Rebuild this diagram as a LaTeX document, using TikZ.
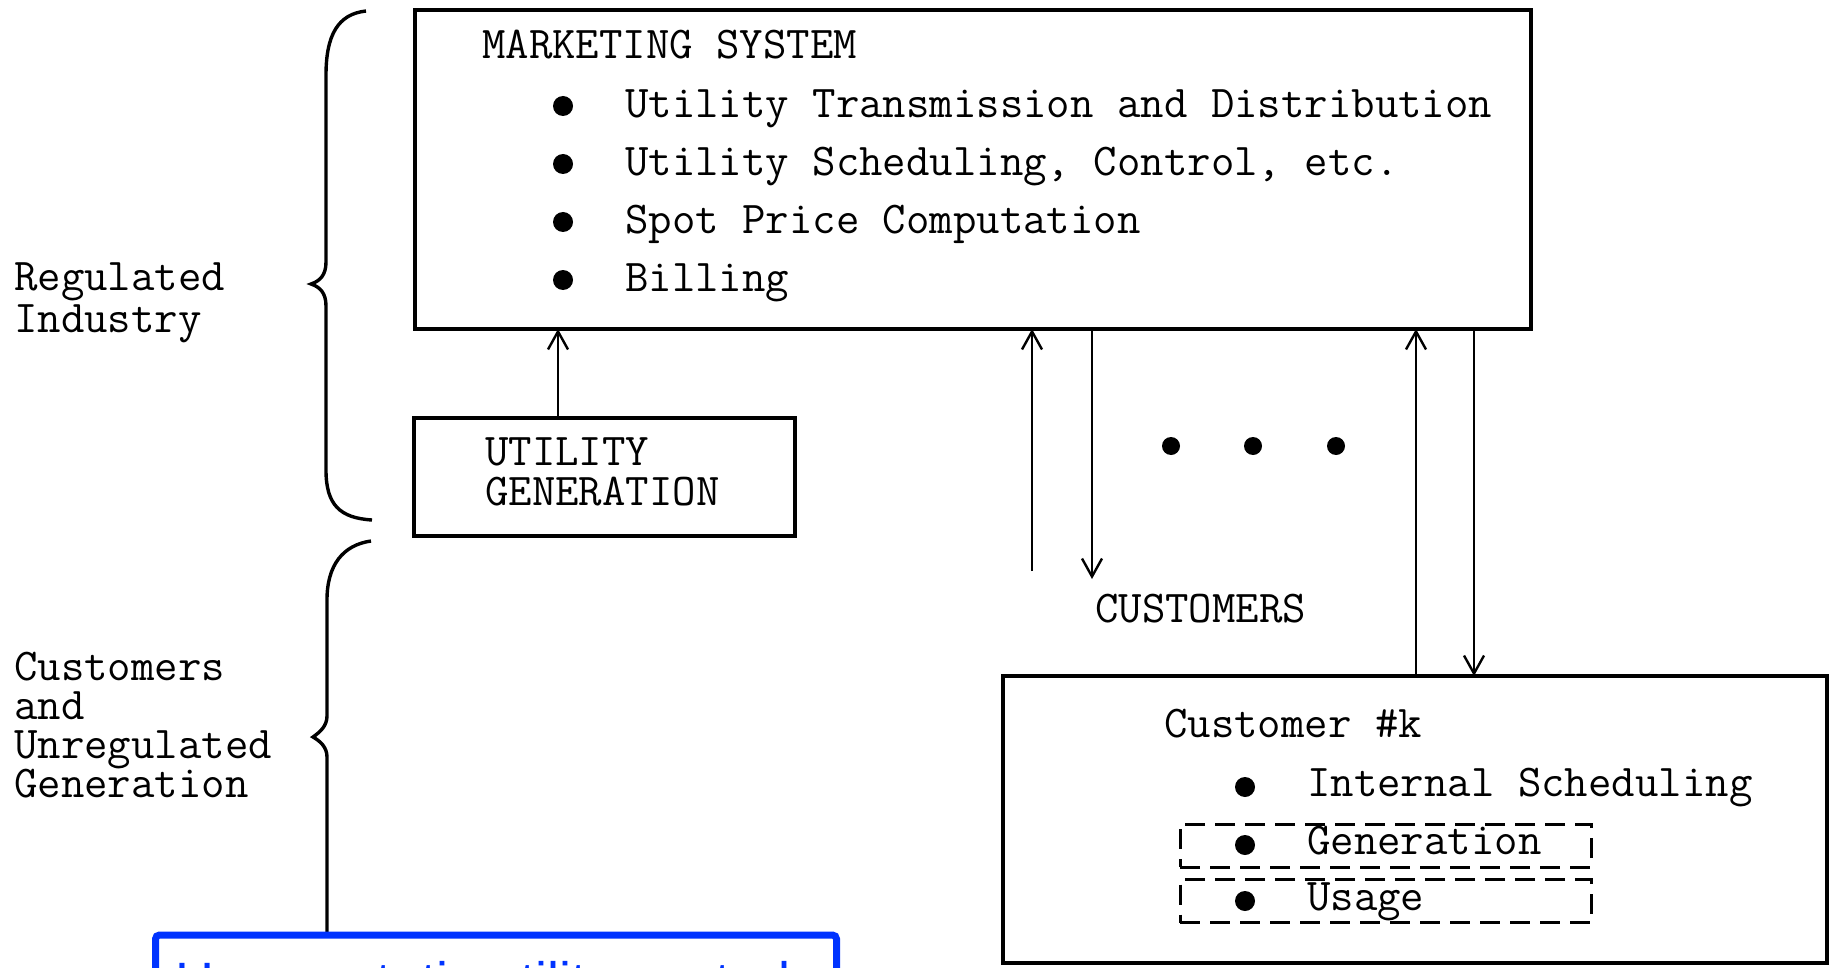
\documentclass[tikz,border=0pt]{standalone}
\usepackage{fontspec}
\usetikzlibrary{arrows.meta}
\newfontfamily\notefont{Liberation Sans}
\definecolor{noteblue}{RGB}{0,51,255}
\newcommand{\typed}{\fontsize{22.75pt}{26pt}\selectfont\ttfamily\addfontfeature{FakeBold=1}}

\begin{document}
\begin{tikzpicture}[x=0.5pt,y=-0.5pt,line width=1.2pt,
  box/.style={draw,line width=1.7pt,inner sep=0pt,outer sep=0pt},
  dbox/.style={draw,line width=1.5pt,dash pattern=on 10pt off 5pt,inner sep=0pt,outer sep=0pt},
  txt/.style={anchor=base west,inner sep=0pt,font=\typed,text height=1.5ex,text depth=0.3ex},
  dot/.style={circle,fill,inner sep=0pt,minimum size=10pt},
  >={Straight Barb[length=9pt,width=10pt]}]
\useasboundingbox (0,0) rectangle (1835,968);
\node[box,minimum width=558pt,minimum height=159.5pt] (mkt) at (973,169.5) {};
\node[txt] (mkttitle) at (481,59) {MARKETING SYSTEM};
\node[dot] (m1) at (563,106) {};
\node[txt] (mkt1) at (624,118) {Utility Transmission and Distribution};
\node[dot] (m2) at (563,164) {};
\node[txt] (mkt2) at (624,176) {Utility Scheduling, Control, etc.};
\node[dot] (m3) at (563,222) {};
\node[txt] (mkt3) at (624,234) {Spot Price Computation};
\node[dot] (m4) at (563,280) {};
\node[txt] (mkt4) at (624,292) {Billing};
\node[box,minimum width=190.5pt,minimum height=59pt] (ugen) at (604.5,477) {};
\node[txt] (ugen1) at (484,465) {UTILITY};
\node[txt] (ugen2) at (484,505) {GENERATION};
\node[txt] (reg1) at (13,291) {Regulated};
\node[txt] (reg2) at (13,332) {Industry};
\node[txt] (unreg1) at (13,680) {Customers};
\node[txt] (unreg2) at (13,719) {and};
\node[txt] (unreg3) at (13,758) {Unregulated};
\node[txt] (unreg4) at (13,797) {Generation};
\node[dot,minimum size=9pt] (etc1) at (1171,446) {};
\node[dot,minimum size=9pt] (etc2) at (1253,446) {};
\node[dot,minimum size=9pt] (etc3) at (1336,446) {};
\node[txt] (custs) at (1094,622) {CUSTOMERS};
\node[box,minimum width=412pt,minimum height=143.5pt] (cust) at (1415,819.5) {};
\node[txt] (custk) at (1163,737) {Customer \#k};
\node[dot] (k1) at (1245,787) {};
\node[txt] (intsched) at (1306,796) {Internal Scheduling};
\node[dbox,minimum width=205.5pt,minimum height=21.5pt] (genbox) at (1385.5,845.5) {};
\node[dot] (k2) at (1245,845) {};
\node[txt] (gen) at (1306,854) {Generation};
\node[dbox,minimum width=205.5pt,minimum height=21.5pt] (usebox) at (1385.5,901) {};
\node[dot] (k3) at (1245,901) {};
\node[txt] (use) at (1306,910) {Usage};
\coordinate (gup) at (558,420);
\coordinate (cin) at (1032,571);
\coordinate (cout) at (1092,579);
\coordinate (kup) at (1416,676);
\coordinate (kdown) at (1474,676);
\path[->] (gup |- ugen.north) edge (gup |- mkt.south);
\path[->] (cin) edge (cin |- mkt.south);
\path[->] (cout |- mkt.south) edge (cout);
\path[->] (kup |- cust.north) edge (kup |- mkt.south);
\path[->] (kdown |- mkt.south) edge (kdown |- cust.north);
\draw[line width=1.7pt] (366,11) .. controls (338,14) and (326,35) .. (326,75) -- (326,262)
  .. controls (326,275) and (320,281) .. (311,284) .. controls (320,287) and (326,293) .. (326,306)
  -- (326,470) .. controls (326,505) and (340,518) .. (372,520);
\draw[line width=1.7pt] (371,541) .. controls (343,545) and (327,565) .. (327,600) -- (327,716)
  .. controls (327,726) and (320,732) .. (313,737) .. controls (320,741) and (327,747) .. (327,757)
  -- (327,940);
\node[draw=noteblue,line width=3.5pt,rounded corners=2pt,fill=white,inner sep=0pt,
  minimum width=340.5pt,minimum height=110pt] (note) at (496,1045) {};
\node[anchor=base west,inner sep=0pt,text=noteblue,font=\notefont\fontsize{27pt}{32pt}\selectfont]
  (notetext) at (174,1000) {Homeostatic utility control};
\end{tikzpicture}
\end{document}
